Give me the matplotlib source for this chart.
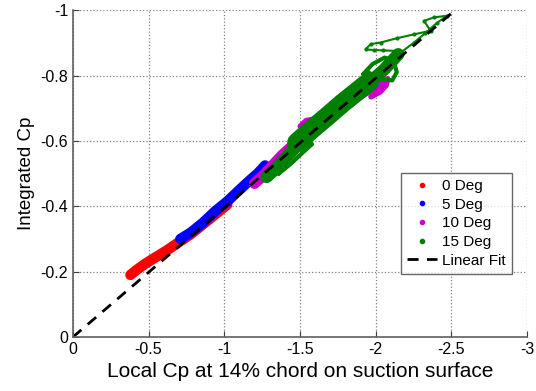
import numpy as np
import matplotlib.pyplot as plt

plt.rcParams['font.family'] = ['Liberation Sans', 'DejaVu Sans']

# values (Local Cp, Integrated Cp)
red_x = [-0.38, -0.42, -0.48, -0.55, -0.62, -0.70, -0.78, -0.86, -0.94, -1.02]
red_y = [-0.19, -0.205, -0.225, -0.245, -0.265, -0.29, -0.315, -0.345, -0.375, -0.405]

blue_x = [-0.71, -0.78, -0.86, -0.94, -1.02, -1.10, -1.17, -1.22, -1.27]
blue_y = [-0.30, -0.32, -0.35, -0.385, -0.415, -0.45, -0.48, -0.50, -0.525]

mag_x = [-1.20, -1.26, -1.32, -1.38, -1.44, -1.50, -1.58, -1.66, -1.74, -1.82,
         -1.90, -1.98, -2.04]
mag_y = [-0.47, -0.495, -0.525, -0.555, -0.58, -0.60, -0.63, -0.66, -0.69, -0.72,
         -0.745, -0.765, -0.78]
mag_stub1_x = [-1.50, -1.54, -1.60, -1.64]
mag_stub1_y = [-0.645, -0.663, -0.668, -0.672]
mag_stub2_x = [-1.97, -2.03, -2.07, -2.08]
mag_stub2_y = [-0.735, -0.75, -0.77, -0.79]

green_x = [-1.28, -1.34, -1.40, -1.46, -1.52, -1.60, -1.68, -1.76, -1.84, -1.92,
           -2.00, -2.06, -2.11, -2.15]
green_y = [-0.49, -0.515, -0.545, -0.575, -0.605, -0.64, -0.672, -0.705, -0.735, -0.765,
           -0.795, -0.82, -0.845, -0.865]
green_core_x = [-1.48, -1.58, -1.68, -1.78, -1.88, -1.96]
green_core_y = [-0.595, -0.636, -0.675, -0.715, -0.752, -0.782]

# loops around the main green band
loop1_x = [-1.36, -1.44, -1.52, -1.58, -1.55, -1.47, -1.40, -1.36]
loop1_y = [-0.50, -0.53, -0.565, -0.59, -0.605, -0.585, -0.55, -0.50]
loop2_x = [-1.92, -1.98, -2.06, -2.12, -2.14, -2.11, -2.03, -1.95, -1.92]
loop2_y = [-0.805, -0.835, -0.855, -0.845, -0.81, -0.785, -0.79, -0.81, -0.805]

# thin excursion at the highest loads
exc_x = [-2.15, -2.05, -1.99, -1.934, -1.967, -2.033, -2.14, -2.254, -2.364, -2.32,
         -2.386, -2.475, -2.408, -2.33, -2.254, -2.166]
exc_y = [-0.875, -0.877, -0.878, -0.880, -0.896, -0.901, -0.914, -0.926, -0.937, -0.967,
         -0.978, -0.983, -0.962, -0.93, -0.901, -0.870]

fit_x = [0, -2.5]
fit_y = [0, -0.99]

fig = plt.figure(figsize=(5.36, 3.91), dpi=100)
ax = fig.add_axes([0.136, 0.138, 0.847, 0.836])

rnd = dict(solid_capstyle='round', solid_joinstyle='round')
ax.plot(red_x, red_y, color='red', lw=7.5, **rnd)
ax.plot(blue_x, blue_y, color='blue', lw=7.5, **rnd)
ax.plot(mag_x, mag_y, color='#cc00cc', lw=8, **rnd)
ax.plot(mag_stub1_x, mag_stub1_y, color='#cc00cc', lw=3.5, **rnd)
ax.plot(mag_stub2_x, mag_stub2_y, color='#cc00cc', lw=4, **rnd)
ax.plot(green_x, green_y, color='green', lw=9, **rnd)
ax.plot(green_core_x, green_core_y, color='green', lw=14, **rnd)
ax.plot(loop1_x, loop1_y, color='green', lw=3, **rnd)
ax.plot(loop2_x, loop2_y, color='green', lw=3, **rnd)
ax.plot(exc_x, exc_y, color='green', lw=1.5, marker='.', ms=4)

# legend handles
ax.plot([], [], '.', color='red', ms=4, label='0 Deg')
ax.plot([], [], '.', color='blue', ms=4, label='5 Deg')
ax.plot([], [], '.', color='#cc00cc', ms=4, label='10 Deg')
ax.plot([], [], '.', color='green', ms=4, label='15 Deg')
ax.plot(fit_x, fit_y, '--', color='black', lw=2, dashes=(4, 3), label='Linear Fit')

ax.set_xlim(0, -3)
ax.set_ylim(0, -1)
ax.set_xticks([0, -0.5, -1, -1.5, -2, -2.5, -3])
ax.set_xticklabels(['0', '-0.5', '-1', '-1.5', '-2', '-2.5', '-3'])
ax.set_yticks([0, -0.2, -0.4, -0.6, -0.8, -1])
ax.set_yticklabels(['0', '-0.2', '-0.4', '-0.6', '-0.8', '-1'])
ax.tick_params(direction='in', labelsize=11.5, colors='#404040', labelcolor='black', length=4)
ax.grid(True, linestyle=':', color='#808080', lw=0.9)
for s in ['top', 'right']:
    ax.spines[s].set_visible(False)
for s in ['left', 'bottom']:
    ax.spines[s].set_color('#606060')
    ax.spines[s].set_linewidth(1.2)

ax.set_xlabel('Local Cp at 14% chord on suction surface', fontsize=15)
ax.set_ylabel('Integrated Cp', fontsize=13.5)

leg = ax.legend(loc='upper left', bbox_to_anchor=(0.705, 0.525), fontsize=11,
                frameon=True, fancybox=False, handlelength=2.0, handletextpad=0.3,
                borderpad=0.4, labelspacing=0.3, markerscale=1.5)
leg.get_frame().set_edgecolor('#404040')
leg.get_frame().set_linewidth(1.0)

fig.savefig('out.png', dpi=100)
